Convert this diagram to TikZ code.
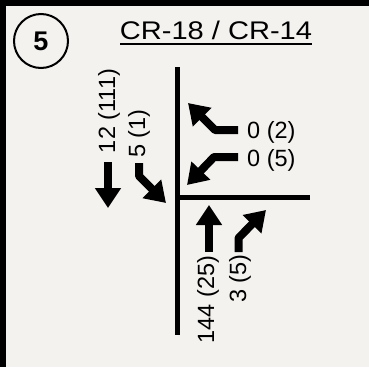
\documentclass[tikz,border=0pt]{standalone}
\usepackage{fontspec}
\setmainfont{Liberation Sans}
\usetikzlibrary{arrows.meta}
\definecolor{paper}{HTML}{F3F2EE}
\tikzset{
  road/.style={line width=5pt},
  move/.style={line width=8pt, line join=round,
    -{Triangle[width=25pt,length=20pt]}},
  vol/.style={font=\fontsize{23.5}{28}\selectfont, inner sep=0pt},
  volrot/.style={vol, rotate=90},
}
\begin{document}
\begin{tikzpicture}[x=1pt,y=-1pt]
  % page and frame
  \fill[paper] (0,0) rectangle (369,367);
  \useasboundingbox (0,0) rectangle (369,367);
  \fill[black] (0,0) rectangle (369,6);
  \fill[black] (0,0) rectangle (6,367);

  % intersection number and title
  \node[circle, draw, line width=2pt, minimum size=54pt, inner sep=0pt,
        font=\fontsize{27}{31}\selectfont\bfseries] (num) at (41,41) {5};
  \node[anchor=base, inner sep=0pt, font=\fontsize{25.5}{30}\selectfont]
        (title) at (216,39.5) {\scalebox{1.14}[1]{CR-18 / CR-14}};
  \draw[line width=2pt] (120,43.5) coordinate (ulA) -- (312,43.5) coordinate (ulB);

  % roads
  \coordinate (nTop) at (177.5,67);
  \coordinate (sBot) at (177.5,335);
  \coordinate (xing) at (177.5,197);
  \coordinate (eEnd) at (310,197);
  \draw[road] (nTop) -- (sBot);
  \draw[road] (xing) -- (eEnd);

  % southbound movements
  \coordinate (sbT0) at (108,162);  \coordinate (sbT1) at (108,208);
  \draw[move] (sbT0) -- (sbT1);
  \coordinate (sbL0) at (139,163);  \coordinate (sbL1) at (139,176);
  \coordinate (sbL2) at (166,203);
  \draw[move] (sbL0) -- (sbL1) -- (sbL2);
  \node[volrot] (sbTv) at (109,111) {12 (111)};
  \node[volrot] (sbLv) at (139,133.5) {5 (1)};

  % westbound movements
  \coordinate (wbR0) at (238,130);  \coordinate (wbR1) at (215,130);
  \coordinate (wbR2) at (188,103);
  \draw[move] (wbR0) -- (wbR1) -- (wbR2);
  \coordinate (wbL0) at (238,157);  \coordinate (wbL1) at (214,157);
  \coordinate (wbL2) at (187,185);
  \draw[move] (wbL0) -- (wbL1) -- (wbL2);
  \node[vol, anchor=west] (wbRv) at (247,132) {0 (2)};
  \node[vol, anchor=west] (wbLv) at (247,160) {0 (5)};

  % northbound movements
  \coordinate (nbT0) at (209,252);  \coordinate (nbT1) at (209,205);
  \draw[move] (nbT0) -- (nbT1);
  \coordinate (nbR0) at (238.5,252); \coordinate (nbR1) at (238.5,238);
  \coordinate (nbR2) at (266,210);
  \draw[move] (nbR0) -- (nbR1) -- (nbR2);
  \node[volrot] (nbTv) at (208,299.5) {144 (25)};
  \node[volrot] (nbRv) at (240,278.5) {3 (5)};
\end{tikzpicture}
\end{document}
